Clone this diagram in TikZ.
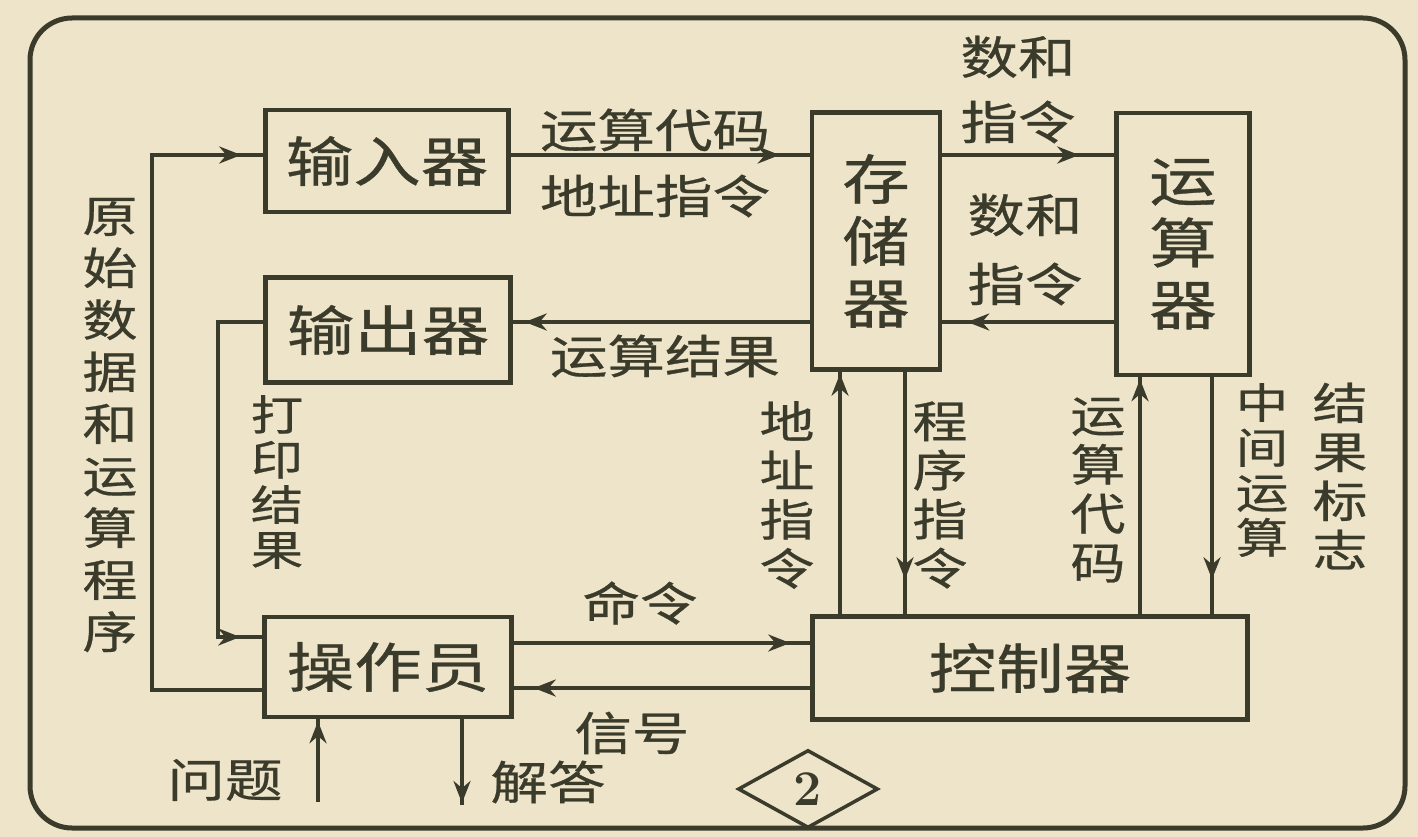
\documentclass[tikz,border=0pt]{standalone}
\usepackage{fontspec}
\newfontfamily\cjk[FakeStretch=1.25,FakeBold=0.6]{Noto Sans CJK SC}
\usetikzlibrary{arrows.meta,decorations.markings,shapes.geometric}
\definecolor{paper}{HTML}{EEE4CA}
\definecolor{ink}{HTML}{3A3B2B}
\begin{document}
\begin{tikzpicture}[x=1pt,y=-1pt,
  box/.style={draw=ink,line width=4.5pt,inner sep=0pt,text=ink,align=center,
    font=\cjk\fontsize{54}{62}\selectfont},
  lab/.style={text=ink,inner sep=0pt,font=\cjk\fontsize{46}{50}\selectfont},
  vlab/.style={text=ink,inner sep=0pt,align=center,font=\cjk\fontsize{44}{49}\selectfont},
  wire/.style={draw=ink,color=ink,line width=4.5pt},
  arr/.style={wire,postaction={decorate},
    decoration={markings,mark=at position -#1 with {\arrow{Stealth[length=22pt,width=17pt]}}}},
  arr/.default=16pt,
]
\useasboundingbox[fill=paper] (0,0) rectangle (1418,837);
\draw[ink,line width=5pt,rounded corners=42pt] (30,18) rectangle (1405,828);

% boxes
\node[box,minimum width=243pt,minimum height=102pt] (inp) at (387,161) {输入器};
\node[box,minimum width=245pt,minimum height=105pt] (outp) at (388,330) {输出器};
\node[box,minimum width=128pt,minimum height=257pt] (mem) at (876,241) {存\\储\\器};
\node[box,minimum width=133pt,minimum height=262pt] (alu) at (1183,244) {运\\算\\器};
\node[box,minimum width=247pt,minimum height=100pt] (op) at (388,667) {操作员};
\node[box,minimum width=435pt,minimum height=103pt] (ctl) at (1030,668) {控制器};

% helper coordinates
\coordinate (y155) at (0,155);
\coordinate (y322) at (0,322);
\coordinate (y637) at (0,637);
\coordinate (y643) at (0,643);
\coordinate (y688) at (0,688);
\coordinate (y690) at (0,690);
\coordinate (x840) at (840,0);
\coordinate (x905) at (905,0);
\coordinate (x1140) at (1140,0);
\coordinate (x1212) at (1212,0);
\coordinate (xL) at (152,155);
\coordinate (xP) at (218,0);
\coordinate (q) at (318,802);
\coordinate (a) at (462,805);

% connectors
\draw[arr=30pt] (inp.east |- y155) -- (mem.west |- y155);
\draw[arr=35pt] (mem.east |- y155) -- (alu.west |- y155);
\draw[arr=25pt] (alu.west |- y322) -- (mem.east |- y322);
\draw[arr=12pt] (mem.west |- y322) -- (outp.east |- y322);
\draw[arr=22pt] (outp.west |- y322) -| (xP |- y637) -- (op.west |- y637);
\draw[arr=22pt] (op.west |- y690) -| (xL) -- (inp.west |- y155);
\draw[arr=20pt] (op.east |- y643) -- (ctl.west |- y643);
\draw[arr=20pt] (ctl.west |- y688) -- (op.east |- y688);
\draw[arr=2pt] (ctl.north -| x840) -- (mem.south -| x840);
\draw[arr=35pt] (mem.south -| x905) -- (ctl.north -| x905);
\draw[arr=2pt] (ctl.north -| x1140) -- (alu.south -| x1140);
\draw[arr=35pt] (alu.south -| x1212) -- (ctl.north -| x1212);
\draw[arr=2pt] (q) -- (op.south -| q);
\draw[arr=2pt] (op.south -| a) -- (a);

% labels
\node[vlab,font=\cjk\fontsize{44}{52}\selectfont] (l1) at (110,425) {原\\始\\数\\据\\和\\运\\算\\程\\序};
\node[vlab,font=\cjk\fontsize{42}{45}\selectfont] (l2) at (277,482) {打\\印\\结\\果};
\node[lab] (l3) at (655,130) {运算代码};
\node[lab] (l4) at (655,196) {地址指令};
\node[lab] (l5) at (1018,57) {数和};
\node[lab] (l6) at (1018,122) {指令};
\node[lab] (l7) at (1025,215) {数和};
\node[lab] (l8) at (1025,284) {指令};
\node[lab] (l9) at (665,356) {运算结果};
\node[vlab] (l10) at (787,495) {地\\址\\指\\令};
\node[vlab] (l11) at (940,495) {程\\序\\指\\令};
\node[vlab] (l12) at (1098,490) {运\\算\\代\\码};
\node[vlab,font=\cjk\fontsize{42}{45}\selectfont] (l13) at (1262,470) {中\\间\\运\\算};
\node[vlab] (l14) at (1340,476) {结\\果\\标\\志};
\node[lab] (l15) at (640,603) {命令};
\node[lab] (l16) at (632,733) {信号};
\node[lab] (l17) at (225,780) {问题};
\node[lab] (l18) at (548,782) {解答};

\node[draw=ink,line width=3.5pt,diamond,minimum width=140pt,minimum height=78pt,
  inner sep=0pt,text=ink,font=\bfseries\fontsize{50}{50}\selectfont] (fig) at (808,789) {2};
\end{tikzpicture}
\end{document}
